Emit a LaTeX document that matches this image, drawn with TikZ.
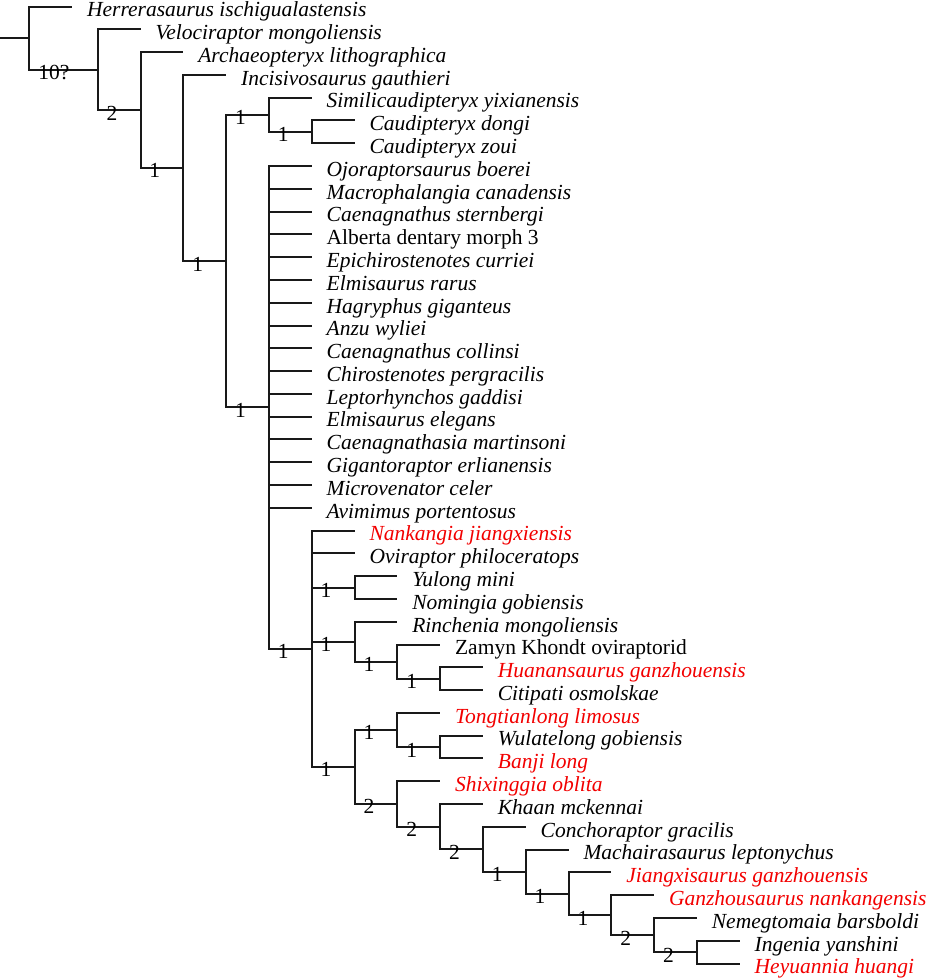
\documentclass[tikz,border=0pt]{standalone}
\usepackage{fontspec}
\setmainfont{Liberation Serif}

\begin{document}
\begin{tikzpicture}[x=1pt,y=-22.786pt,line width=2pt,color={black!90}]

    \tikzset{
      taxon/.style={
        anchor=base west,
        inner sep=0pt,
        xshift=14pt,
        yshift=-10.3pt,
        text=black,
        font=\fontsize{21.5}{22}\selectfont\itshape,
      },
      upright/.style={font=\fontsize{21.5}{22}\selectfont\upshape},
      newtaxon/.style={text={red!95!black}},
      supp/.style={
        anchor=base west,
        inner sep=0pt,
        xshift=8pt,
        yshift=-10pt,
        text=black,
        font=\fontsize{21.5}{22}\selectfont,
      },
    }
    \useasboundingbox (0,-0.2853) rectangle (926,42.724);

    % internal nodes
    \coordinate (base) at (0,1.3857);
    \coordinate (c1) at (29.3,1.3857);
    \coordinate (c2) at (97.7,2.7715);
    \coordinate (c3) at (140.5,4.5429);
    \coordinate (c4) at (183.3,7.0858);
    \coordinate (c5) at (226.1,11.1716);
    \coordinate (c6) at (268.9,4.75);
    \coordinate (c7) at (311.7,5.5);
    \coordinate (c8) at (268.9,17.593);
    \coordinate (c9) at (311.7,28.1865);
    \coordinate (c10) at (354.5,25.5);
    \coordinate (c11) at (354.5,27.875);
    \coordinate (c12) at (397.3,28.75);
    \coordinate (c13) at (440.1,29.5);
    \coordinate (c14) at (354.5,33.373);
    \coordinate (c15) at (397.3,31.75);
    \coordinate (c16) at (440.1,32.5);
    \coordinate (c17) at (397.3,34.9961);
    \coordinate (c18) at (440.1,35.9922);
    \coordinate (c19) at (482.9,36.9844);
    \coordinate (c20) at (525.7,37.9688);
    \coordinate (c21) at (568.5,38.9375);
    \coordinate (c22) at (611.3,39.875);
    \coordinate (c23) at (654.1,40.75);
    \coordinate (c24) at (696.9,41.5);

    % leaf ends and names
    \coordinate (e0) at (72.1,0);
    \node[taxon] (t0) at (e0) {Herrerasaurus ischigualastensis};
    \coordinate (e1) at (140.5,1);
    \node[taxon] (t1) at (e1) {Velociraptor mongoliensis};
    \coordinate (e2) at (183.3,2);
    \node[taxon] (t2) at (e2) {Archaeopteryx lithographica};
    \coordinate (e3) at (226.1,3);
    \node[taxon] (t3) at (e3) {Incisivosaurus gauthieri};
    \coordinate (e4) at (311.7,4);
    \node[taxon] (t4) at (e4) {Similicaudipteryx yixianensis};
    \coordinate (e5) at (354.5,5);
    \node[taxon] (t5) at (e5) {Caudipteryx dongi};
    \coordinate (e6) at (354.5,6);
    \node[taxon] (t6) at (e6) {Caudipteryx zoui};
    \coordinate (e7) at (311.7,7);
    \node[taxon] (t7) at (e7) {Ojoraptorsaurus boerei};
    \coordinate (e8) at (311.7,8);
    \node[taxon] (t8) at (e8) {Macrophalangia canadensis};
    \coordinate (e9) at (311.7,9);
    \node[taxon] (t9) at (e9) {Caenagnathus sternbergi};
    \coordinate (e10) at (311.7,10);
    \node[taxon,upright] (t10) at (e10) {Alberta dentary morph 3};
    \coordinate (e11) at (311.7,11);
    \node[taxon] (t11) at (e11) {Epichirostenotes curriei};
    \coordinate (e12) at (311.7,12);
    \node[taxon] (t12) at (e12) {Elmisaurus rarus};
    \coordinate (e13) at (311.7,13);
    \node[taxon] (t13) at (e13) {Hagryphus giganteus};
    \coordinate (e14) at (311.7,14);
    \node[taxon] (t14) at (e14) {Anzu wyliei};
    \coordinate (e15) at (311.7,15);
    \node[taxon] (t15) at (e15) {Caenagnathus collinsi};
    \coordinate (e16) at (311.7,16);
    \node[taxon] (t16) at (e16) {Chirostenotes pergracilis};
    \coordinate (e17) at (311.7,17);
    \node[taxon] (t17) at (e17) {Leptorhynchos gaddisi};
    \coordinate (e18) at (311.7,18);
    \node[taxon] (t18) at (e18) {Elmisaurus elegans};
    \coordinate (e19) at (311.7,19);
    \node[taxon] (t19) at (e19) {Caenagnathasia martinsoni};
    \coordinate (e20) at (311.7,20);
    \node[taxon] (t20) at (e20) {Gigantoraptor erlianensis};
    \coordinate (e21) at (311.7,21);
    \node[taxon] (t21) at (e21) {Microvenator celer};
    \coordinate (e22) at (311.7,22);
    \node[taxon] (t22) at (e22) {Avimimus portentosus};
    \coordinate (e23) at (354.5,23);
    \node[taxon,newtaxon] (t23) at (e23) {Nankangia jiangxiensis};
    \coordinate (e24) at (354.5,24);
    \node[taxon] (t24) at (e24) {Oviraptor philoceratops};
    \coordinate (e25) at (397.3,25);
    \node[taxon] (t25) at (e25) {Yulong mini};
    \coordinate (e26) at (397.3,26);
    \node[taxon] (t26) at (e26) {Nomingia gobiensis};
    \coordinate (e27) at (397.3,27);
    \node[taxon] (t27) at (e27) {Rinchenia mongoliensis};
    \coordinate (e28) at (440.1,28);
    \node[taxon,upright] (t28) at (e28) {Zamyn Khondt oviraptorid};
    \coordinate (e29) at (482.9,29);
    \node[taxon,newtaxon] (t29) at (e29) {Huanansaurus ganzhouensis};
    \coordinate (e30) at (482.9,30);
    \node[taxon] (t30) at (e30) {Citipati osmolskae};
    \coordinate (e31) at (440.1,31);
    \node[taxon,newtaxon] (t31) at (e31) {Tongtianlong limosus};
    \coordinate (e32) at (482.9,32);
    \node[taxon] (t32) at (e32) {Wulatelong gobiensis};
    \coordinate (e33) at (482.9,33);
    \node[taxon,newtaxon] (t33) at (e33) {Banji long};
    \coordinate (e34) at (440.1,34);
    \node[taxon,newtaxon] (t34) at (e34) {Shixinggia oblita};
    \coordinate (e35) at (482.9,35);
    \node[taxon] (t35) at (e35) {Khaan mckennai};
    \coordinate (e36) at (525.7,36);
    \node[taxon] (t36) at (e36) {Conchoraptor gracilis};
    \coordinate (e37) at (568.5,37);
    \node[taxon] (t37) at (e37) {Machairasaurus leptonychus};
    \coordinate (e38) at (611.3,38);
    \node[taxon,newtaxon] (t38) at (e38) {Jiangxisaurus ganzhouensis};
    \coordinate (e39) at (654.1,39);
    \node[taxon,newtaxon] (t39) at (e39) {Ganzhousaurus nankangensis};
    \coordinate (e40) at (696.9,40);
    \node[taxon] (t40) at (e40) {Nemegtomaia barsboldi};
    \coordinate (e41) at (739.7,41);
    \node[taxon] (t41) at (e41) {Ingenia yanshini};
    \coordinate (e42) at (739.7,42);
    \node[taxon,newtaxon] (t42) at (e42) {Heyuannia huangi};

    % branches
    \draw (base) -- (c1);
    \draw (c1) |- (e0);  \draw (c1) |- (c2);
    \draw (c2) |- (e1);  \draw (c2) |- (c3);
    \draw (c3) |- (e2);  \draw (c3) |- (c4);
    \draw (c4) |- (e3);  \draw (c4) |- (c5);
    \draw (c5) |- (c6);  \draw (c5) |- (c8);
    \draw (c6) |- (e4);  \draw (c6) |- (c7);
    \draw (c7) |- (e5);  \draw (c7) |- (e6);
    \draw (c8) |- (e7);  \draw (c8) |- (e8);  \draw (c8) |- (e9);
    \draw (c8) |- (e10); \draw (c8) |- (e11); \draw (c8) |- (e12);
    \draw (c8) |- (e13); \draw (c8) |- (e14); \draw (c8) |- (e15);
    \draw (c8) |- (e16); \draw (c8) |- (e17); \draw (c8) |- (e18);
    \draw (c8) |- (e19); \draw (c8) |- (e20); \draw (c8) |- (e21);
    \draw (c8) |- (e22); \draw (c8) |- (c9);
    \draw (c9) |- (e23); \draw (c9) |- (e24);
    \draw (c9) |- (c10); \draw (c9) |- (c11); \draw (c9) |- (c14);
    \draw (c10) |- (e25); \draw (c10) |- (e26);
    \draw (c11) |- (e27); \draw (c11) |- (c12);
    \draw (c12) |- (e28); \draw (c12) |- (c13);
    \draw (c13) |- (e29); \draw (c13) |- (e30);
    \draw (c14) |- (c15); \draw (c14) |- (c17);
    \draw (c15) |- (e31); \draw (c15) |- (c16);
    \draw (c16) |- (e32); \draw (c16) |- (e33);
    \draw (c17) |- (e34); \draw (c17) |- (c18);
    \draw (c18) |- (e35); \draw (c18) |- (c19);
    \draw (c19) |- (e36); \draw (c19) |- (c20);
    \draw (c20) |- (e37); \draw (c20) |- (c21);
    \draw (c21) |- (e38); \draw (c21) |- (c22);
    \draw (c22) |- (e39); \draw (c22) |- (c23);
    \draw (c23) |- (e40); \draw (c23) |- (c24);
    \draw (c24) |- (e41); \draw (c24) |- (e42);

    % support values
    \node[supp] at (c1 |- c2) {10?};
    \node[supp] at (c2 |- c3) {2};
    \node[supp] at (c3 |- c4) {1};
    \node[supp] at (c4 |- c5) {1};
    \node[supp] at (c5 |- c6) {1};
    \node[supp] at (c6 |- c7) {1};
    \node[supp] at (c5 |- c8) {1};
    \node[supp] at (c8 |- c9) {1};
    \node[supp] at (c9 |- c10) {1};
    \node[supp] at (c9 |- c11) {1};
    \node[supp] at (c11 |- c12) {1};
    \node[supp] at (c12 |- c13) {1};
    \node[supp] at (c9 |- c14) {1};
    \node[supp] at (c14 |- c15) {1};
    \node[supp] at (c15 |- c16) {1};
    \node[supp] at (c14 |- c17) {2};
    \node[supp] at (c17 |- c18) {2};
    \node[supp] at (c18 |- c19) {2};
    \node[supp] at (c19 |- c20) {1};
    \node[supp] at (c20 |- c21) {1};
    \node[supp] at (c21 |- c22) {1};
    \node[supp] at (c22 |- c23) {2};
    \node[supp] at (c23 |- c24) {2};

\end{tikzpicture}
\end{document}
